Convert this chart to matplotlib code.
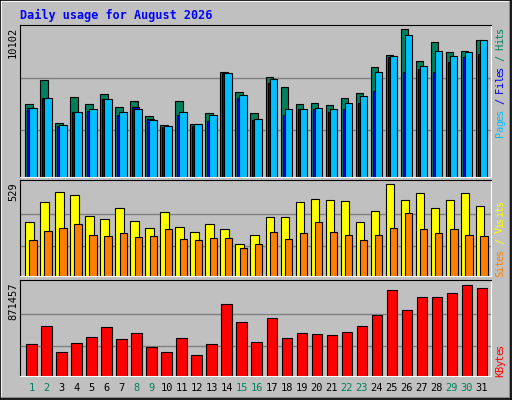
import numpy as np
import matplotlib
matplotlib.use("Agg")
import matplotlib.pyplot as plt
from matplotlib.lines import Line2D

days = list(range(1, 32))
weekend = [1, 2, 8, 9, 15, 16, 22, 23, 29, 30]

hits = [5010, 6660, 3710, 5490, 5010, 5690, 4800, 5210, 4180, 3570, 5210, 3640, 4390, 7200, 5830, 4390,
        6860, 6170, 5010, 5080, 4940, 5420, 5760, 7540, 8370, 10102, 7960, 9260, 8570, 8640, 9390]
files = [4730, 5420, 3500, 4460, 4530, 5350, 4250, 4800, 3980, 3430, 4250, 3500, 3840, 7130, 5420, 3910,
         6450, 4250, 4660, 4660, 4460, 4660, 5080, 5900, 8230, 7160, 7370, 7160, 7840, 8180, 8390]
pages = [4730, 5420, 3570, 4460, 4660, 5350, 4460, 4660, 3910, 3500, 4460, 3640, 4250, 7130, 5620, 3980,
         6670, 4660, 4660, 4730, 4660, 5080, 5560, 7200, 8300, 9690, 7570, 8600, 8300, 8570, 9390]
visits = [310, 426, 484, 466, 345, 328, 391, 316, 275, 368, 281, 252, 298, 270, 183, 235,
          339, 339, 426, 443, 437, 431, 310, 374, 529, 437, 477, 391, 437, 477, 403]
sites = [206, 258, 275, 298, 235, 229, 246, 223, 229, 270, 212, 206, 218, 218, 160, 183,
         252, 212, 246, 314, 252, 235, 206, 235, 275, 366, 270, 246, 270, 235, 229]
kbytes = [308000, 480000, 232000, 318000, 375000, 471000, 356000, 413000, 280000, 232000, 366000, 204000,
          308000, 687000, 515000, 327000, 553000, 366000, 413000, 404000, 394000, 423000, 480000, 585000,
          824000, 633000, 757000, 757000, 795000, 871457, 843000]

W, H = 512, 400
fig = plt.figure(figsize=(W / 100, H / 100), dpi=100)
fig.patch.set_facecolor("#c0c0c0")
mono = "DejaVu Sans Mono"

def fx(px):
    return px / W

def fy(py):
    return 1 - py / H

# outer bevel
for (x0, y0, x1, y1, c) in [(1, 1, 510, 1, "white"), (1, 1, 1, 398, "white"),
                            (1, 398, 510, 398, "#808080"), (510, 1, 510, 398, "#808080"),
                            (0, 0, 511, 0, "black"), (0, 0, 0, 399, "black"),
                            (0, 399, 511, 399, "black"), (511, 0, 511, 399, "black")]:
    fig.add_artist(Line2D([fx(x0), fx(x1)], [fy(y0), fy(y1)], color=c, lw=1.2))

fig.text(fx(20), fy(15), "Daily usage for August 2026", color="#0000ff", fontsize=8.5,
         fontweight="bold", family=mono, va="center")

def panel(top, base, vmax, maxpx):
    ax = fig.add_axes([fx(20), fy(base), fx(491) - fx(20), (base - top) / H])
    ax.set_facecolor("#c0c0c0")
    ax.set_xlim(0, 470)
    ax.set_ylim(0, vmax * (base - top) / maxpx)
    ax.set_xticks([])
    ax.set_yticks([])
    for s in ["top", "left"]:
        ax.spines[s].set_color("black")
    for s in ["bottom", "right"]:
        ax.spines[s].set_color("white")
    for g in (0.31, 0.65):
        ax.axhline(ax.get_ylim()[1] * g, color="#808080", lw=1, zorder=0)
    return ax

def bars(ax, vals, off, w, col):
    x = [15 * (d - 1) + off for d in days]
    ax.bar(x, vals, width=w, align="edge", color=col, edgecolor="black", lw=0.8, zorder=2)

ax1 = panel(25, 177, 10102, 147.7)
bars(ax1, hits, 5, 7.5, "#00805c")
bars(ax1, files, 7, 7, "#0000ff")
bars(ax1, pages, 9, 7.5, "#00c0ff")

ax2 = panel(180, 276, 529, 91.7)
bars(ax2, visits, 5, 8.5, "#ffff00")
bars(ax2, sites, 9.3, 7.3, "#ff8000")

ax3 = panel(280, 376, 871457, 91.3)
bars(ax3, kbytes, 6, 10.5, "#ff0000")

# left max labels
for y, s in [(27, "10102"), (182, "529"), (282, "871457")]:
    fig.text(fx(13), fy(y), s, rotation=90, fontsize=7.5, family=mono, va="top", ha="center")

# right legend labels, one character at a time from the bottom upward
def stack(y0, parts):
    y = y0
    for s, c in parts:
        for ch in s:
            if ch != " ":
                fig.text(fx(500), fy(y), ch, rotation=90, fontsize=7.5, family=mono, color=c,
                         va="bottom", ha="center")
            y -= 5.45

stack(137, [("Pages", "#00c0ff"), (" / ", "#0000ff"), ("Files", "#0000ff"),
            (" / ", "#00805c"), ("Hits", "#00805c")])
stack(277, [("Sites", "#ff8000"), (" / ", "#ffff00"), ("Visits", "#ffff00")])
stack(377, [("KBytes", "#ff0000")])

for d in days:
    c = "#00805c" if d in weekend else "black"
    fig.text(fx(20 + 15 * (d - 1) + 11.5), fy(388), str(d), color=c, fontsize=7.5,
             family=mono, ha="center", va="center")

fig.savefig("out.png", dpi=100, facecolor=fig.get_facecolor())
